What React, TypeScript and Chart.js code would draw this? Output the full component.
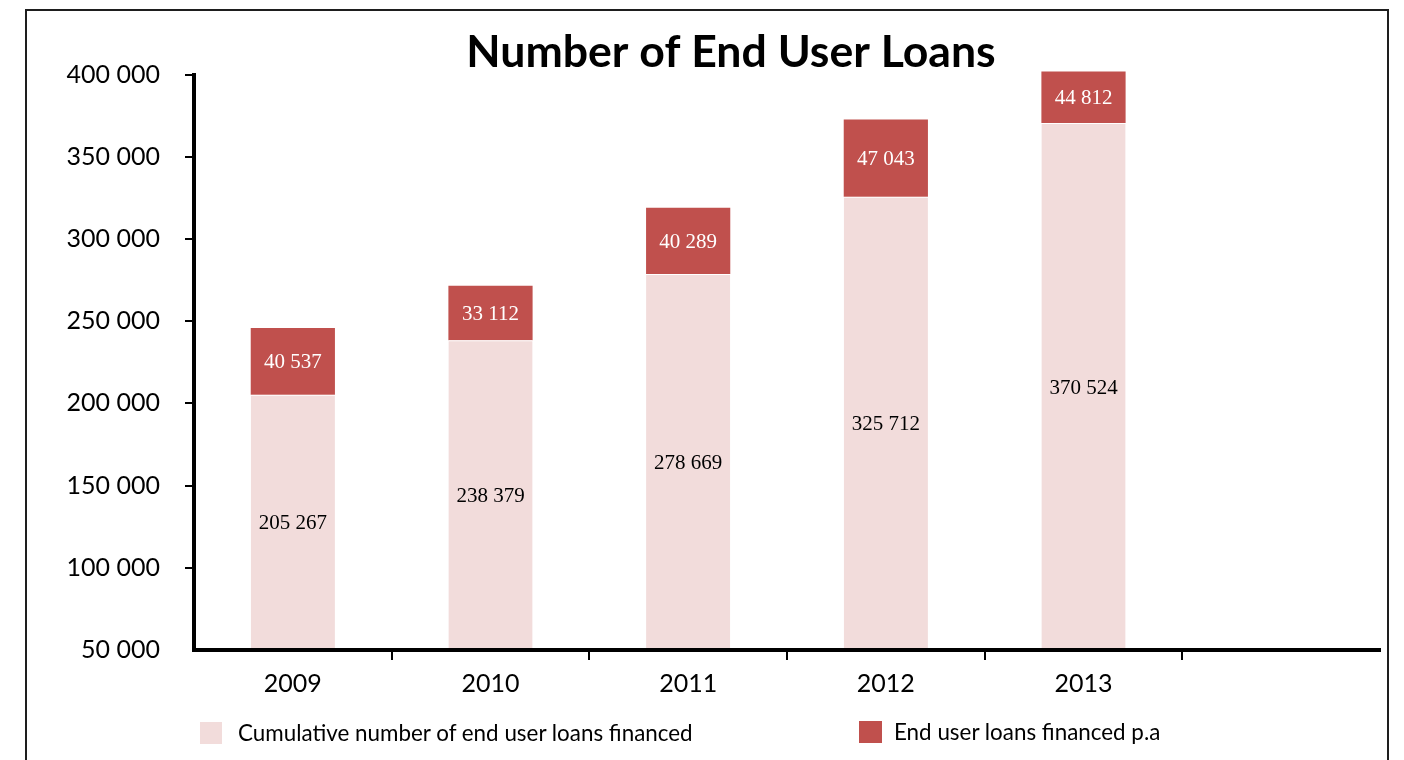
import React, { useEffect, useRef } from 'react';
import { Chart, registerables } from 'chart.js';

Chart.register(...registerables);

// ---- data ----
const years = ['2009', '2010', '2011', '2012', '2013', ''];
const cumulativeLoans = [205267, 238379, 278669, 325712, 370524, null];
const annualLoans = [40537, 33112, 40289, 47043, 44812, null];
const yAxisMin = 50000;
const yAxisMax = 400000;
const yAxisStep = 50000;
const seriesNames = ['Cumulative number of end user loans financed', 'End user loans financed p.a'];
const chartTitle = 'Number of End User Loans';

const pinkColor = '#F2DCDB';
const redColor = '#C0504D';
const labelColors = ['#000000', '#FFFFFF'];

function fmt(v: number): string {
  return String(Math.round(v)).replace(/\B(?=(\d{3})+(?!\d))/g, ' ');
}

const valueLabels = {
  id: 'valueLabels',
  afterDatasetsDraw(chart: any) {
    const { ctx, chartArea } = chart;
    ctx.save();
    chart.data.datasets.forEach((ds: any, di: number) => {
      const meta = chart.getDatasetMeta(di);
      meta.data.forEach((bar: any, i: number) => {
        const v = ds.data[i];
        if (v == null) return;
        const { x, y, base } = bar.getProps(['x', 'y', 'base'], true);
        const top = Math.max(Math.min(y, base), chartArea.top - 3);
        const bottom = Math.min(Math.max(y, base), chartArea.bottom);
        ctx.font = '21px "Liberation Serif"';
        ctx.fillStyle = labelColors[di];
        ctx.textAlign = 'center';
        ctx.textBaseline = 'middle';
        ctx.fillText(fmt(v), x, (top + bottom) / 2 + 1.5);
      });
    });
    ctx.restore();
  },
};

export default function App() {
  const canvasRef = useRef<HTMLCanvasElement | null>(null);

  useEffect(() => {
    if (!canvasRef.current) return;
    const chart = new Chart(canvasRef.current, {
      type: 'bar',
      data: {
        labels: years,
        datasets: [
          {
            label: seriesNames[0],
            data: cumulativeLoans,
            backgroundColor: pinkColor,
            borderColor: '#FFFFFF',
            borderWidth: { top: 1, right: 0, bottom: 0, left: 0 },
            categoryPercentage: 1,
            barPercentage: 0.426,
            clip: { left: 0, top: 3, right: 0, bottom: 0 },
          } as any,
          {
            label: seriesNames[1],
            data: annualLoans,
            backgroundColor: redColor,
            borderWidth: 0,
            categoryPercentage: 1,
            barPercentage: 0.426,
            clip: { left: 0, top: 3, right: 0, bottom: 0 },
          } as any,
        ],
      },
      options: {
        animation: false,
        responsive: true,
        maintainAspectRatio: false,
        layout: { padding: { left: 60, right: 2, top: 0, bottom: 0 } },
        plugins: {
          legend: { display: false },
          tooltip: { enabled: false },
          title: {
            display: true,
            text: chartTitle,
            color: '#000000',
            font: { family: 'Lato', size: 44.6, weight: 'bold', lineHeight: 1 },
            padding: { top: 30, bottom: 0 },
          },
        },
        scales: {
          x: {
            stacked: true,
            offset: true,
            grid: {
              offset: true,
              drawOnChartArea: false,
              drawTicks: true,
              tickLength: 10,
              lineWidth: 2,
              color: (c: any) => (c.type !== 'tick' || c.index === 0 ? 'rgba(0,0,0,0)' : '#000000'),
            },
            border: { display: true, color: '#000000', width: 4, z: 1 },
            ticks: {
              color: '#000000',
              font: { family: 'Lato', size: 25 },
              padding: 9,
              maxRotation: 0,
              autoSkip: false,
            },
            afterFit: (s: any) => {
              s.height = 110;
            },
          },
          y: {
            stacked: true,
            min: yAxisMin,
            max: yAxisMax,
            ticks: {
              stepSize: yAxisStep,
              callback: (v: any) => fmt(Number(v)),
              color: '#000000',
              font: { family: 'Lato', size: 25 },
              padding: 25,
            },
            grid: {
              drawOnChartArea: false,
              drawTicks: true,
              tickLength: 9,
              lineWidth: 2,
              color: (c: any) => (c.index === 0 ? 'rgba(0,0,0,0)' : '#000000'),
            },
            border: { display: true, color: '#000000', width: 4, z: 1 },
            afterFit: (s: any) => {
              s.width = 134;
            },
          },
          // empty spacer on the right, keeps the plot area ending before the frame
          spacer: {
            type: 'linear',
            position: 'right',
            display: true,
            grid: { display: false, drawTicks: false },
            border: { display: false },
            ticks: { display: false },
            afterFit: (s: any) => {
              s.width = 22;
            },
          },
        },
      } as any,
      plugins: [valueLabels],
    });
    return () => chart.destroy();
  }, []);

  const legendText: React.CSSProperties = {
    position: 'absolute',
    fontFamily: 'Lato',
    fontSize: 22.4,
    lineHeight: '22px',
    color: '#000',
    whiteSpace: 'nowrap',
  };

  return (
    <div
      style={{
        position: 'absolute',
        left: 0,
        top: 0,
        width: 1404,
        height: 760,
        overflow: 'hidden',
        background: '#fff',
      }}
    >
      <div
        style={{
          position: 'absolute',
          left: 25,
          top: 9,
          width: 1364,
          height: 800,
          border: '2px solid #1e1e1e',
          boxSizing: 'border-box',
        }}
      />
      <div style={{ position: 'absolute', left: 0, top: 0, width: 1404, height: 760 }}>
        <canvas ref={canvasRef} />
      </div>
      <div style={{ position: 'absolute', left: 200, top: 722, width: 22, height: 22, background: pinkColor }} />
      <div style={{ ...legendText, left: 238, top: 722 }}>{seriesNames[0]}</div>
      <div style={{ position: 'absolute', left: 859, top: 721, width: 23, height: 22, background: redColor }} />
      <div style={{ ...legendText, left: 894, top: 721 }}>{seriesNames[1]}</div>
    </div>
  );
}
